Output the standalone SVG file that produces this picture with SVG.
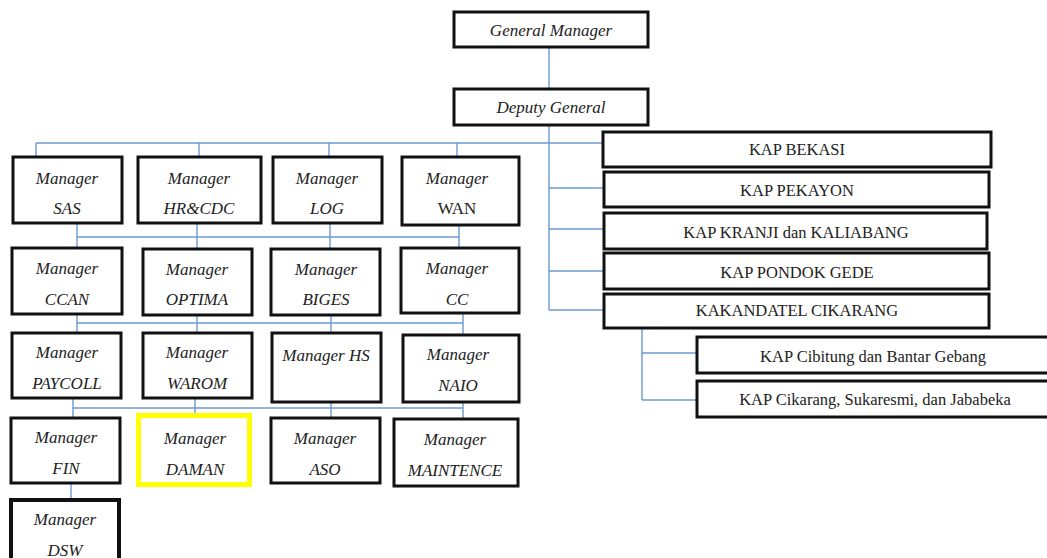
<svg xmlns="http://www.w3.org/2000/svg" width="1047" height="558" viewBox="0 0 1047 558">
<style>
.b{fill:#fff;stroke:#111;stroke-width:3}
.t{font-family:"Liberation Serif",serif;font-style:italic;font-size:17px;fill:#222;text-anchor:middle}
.k{font-family:"Liberation Serif",serif;font-size:16.5px;fill:#222;text-anchor:middle}
.c{fill:none;stroke:#6b9bd2;stroke-width:1.4}
</style>
<rect width="1047" height="558" fill="#fff"/>
<g id="connectors" class="c">
<path d="M549 47V89M549 125V310"/>
<path d="M36 143H603M36 143V157M199 143V157M329 143V157M457 143V157"/>
<path d="M549 188H604M549 229H604M549 271H604M549 310H604"/>
<path d="M642 328V400M642 353H697M642 400H697"/>
<path d="M77 223V248M197 223V249M330 223V249M459 225V248M77 237H459"/>
<path d="M77 314V333M197 315V333M331 315V333M463 313V335M77 323H463"/>
<path d="M73 398V418M195 398V413M331 402V418M463 402V419M73 408H463"/>
<path d="M71 483V498"/>
</g>
<g id="gm"><rect class="b" x="454" y="12" width="194" height="35"/><text class="t" x="551" y="36">General Manager</text></g>
<g id="dg"><rect class="b" x="454" y="89" width="194" height="36"/><text class="t" x="551" y="113">Deputy General</text></g>
<g id="sas"><rect class="b" x="13" y="157" width="109" height="66"/><text class="t" x="67" y="184">Manager</text><text class="t" x="67" y="214">SAS</text></g>
<g id="hrcdc"><rect class="b" x="138" y="157" width="123" height="66"/><text class="t" x="199" y="184">Manager</text><text class="t" x="199" y="214">HR&amp;CDC</text></g>
<g id="log"><rect class="b" x="273" y="157" width="109" height="66"/><text class="t" x="327" y="184">Manager</text><text class="t" x="327" y="214">LOG</text></g>
<g id="wan"><rect class="b" x="402" y="157" width="117" height="68"/><text class="t" x="457" y="184">Manager</text><text class="k" x="457" y="214" style="font-size:17px">WAN</text></g>
<g id="ccan"><rect class="b" x="12" y="248" width="110" height="66"/><text class="t" x="67" y="274">Manager</text><text class="t" x="67" y="305">CCAN</text></g>
<g id="optima"><rect class="b" x="143" y="249" width="109" height="66"/><text class="t" x="197" y="275">Manager</text><text class="t" x="197" y="305">OPTIMA</text></g>
<g id="biges"><rect class="b" x="271" y="249" width="109" height="66"/><text class="t" x="326" y="275">Manager</text><text class="t" x="326" y="305">BIGES</text></g>
<g id="cc"><rect class="b" x="401" y="248" width="118" height="65"/><text class="t" x="457" y="274">Manager</text><text class="t" x="457" y="305">CC</text></g>
<g id="paycoll"><rect class="b" x="12" y="333" width="109" height="65"/><text class="t" x="67" y="358">Manager</text><text class="t" x="67" y="389">PAYCOLL</text></g>
<g id="warom"><rect class="b" x="143" y="333" width="109" height="65"/><text class="t" x="197" y="358">Manager</text><text class="t" x="197" y="389">WAROM</text></g>
<g id="hs"><rect class="b" x="272" y="333" width="109" height="69"/><text class="t" x="326" y="361">Manager HS</text></g>
<g id="naio"><rect class="b" x="403" y="335" width="116" height="67"/><text class="t" x="458" y="360">Manager</text><text class="t" x="458" y="391">NAIO</text></g>
<g id="fin"><rect class="b" x="11" y="418" width="109" height="65"/><text class="t" x="66" y="443">Manager</text><text class="t" x="66" y="474">FIN</text></g>
<g id="daman"><rect x="138.5" y="415.5" width="111" height="69" fill="#fff" stroke="#ffff00" stroke-width="5"/><text class="t" x="195" y="444">Manager</text><text class="t" x="195" y="475">DAMAN</text></g>
<g id="aso"><rect class="b" x="271" y="418" width="109" height="65"/><text class="t" x="325" y="444">Manager</text><text class="t" x="325" y="475">ASO</text></g>
<g id="maintence"><rect class="b" x="394" y="419" width="124" height="67"/><text class="t" x="455" y="445">Manager</text><text class="t" x="455" y="476">MAINTENCE</text></g>
<g id="dsw"><rect class="b" x="11" y="500" width="108" height="70" style="stroke-width:4"/><text class="t" x="65" y="525">Manager</text><text class="t" x="65" y="556">DSW</text></g>
<g id="bekasi"><rect class="b" x="603" y="132" width="388" height="35"/><text class="k" x="797" y="155">KAP BEKASI</text></g>
<g id="pekayon"><rect class="b" x="604" y="172" width="385" height="35"/><text class="k" x="797" y="196">KAP PEKAYON</text></g>
<g id="kranji"><rect class="b" x="604" y="213" width="383" height="36"/><text class="k" x="796" y="238">KAP KRANJI dan KALIABANG</text></g>
<g id="pondok"><rect class="b" x="604" y="253" width="385" height="36"/><text class="k" x="797" y="278">KAP PONDOK GEDE</text></g>
<g id="kakandatel"><rect class="b" x="604" y="294" width="385" height="34"/><text class="k" x="797" y="316">KAKANDATEL CIKARANG</text></g>
<g id="cibitung"><rect class="b" x="697" y="337" width="353" height="36"/><text class="k" x="873" y="362">KAP Cibitung dan Bantar Gebang</text></g>
<g id="cikarang"><rect class="b" x="697" y="381" width="353" height="36"/><text class="k" x="875" y="405">KAP Cikarang, Sukaresmi, dan Jababeka</text></g>
</svg>
